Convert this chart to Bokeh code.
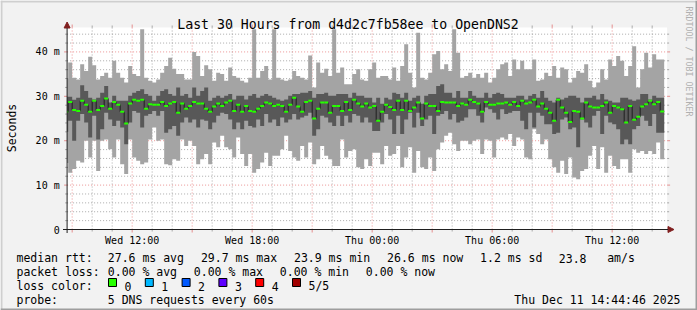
import datetime as dt
from math import pi

from bokeh.plotting import figure
from bokeh.models import (Range1d, Label, Arrow, NormalHead, BoxAnnotation, ColumnDataSource)
from bokeh.core.properties import value
from bokeh.embed import file_html
from bokeh.resources import INLINE

# ---------------- data ----------------
END_TIME = dt.datetime(2025, 12, 11, 14, 44, 46)
START_TIME = END_TIME - dt.timedelta(hours=30)
FIRST_STEP_END = dt.datetime(2025, 12, 10, 8, 48)
STEP_MINUTES = 12
Y_MAX = 45.5

ping_max = [34.0,
    37.6, 34.2, 33.8, 37.2, 35.7, 38.9, 37.0, 33.8, 34.6, 35.3, 34.2, 38.0, 35.3, 34.2, 33.1, 36.8, 35.0, 34.6, 45.1, 34.2, 33.5, 33.1, 33.8, 35.3, 36.8,
    38.7, 36.2, 35.0, 35.0, 33.8, 33.8, 40.0, 39.1, 34.6, 37.0, 36.1, 33.5, 35.3, 35.0, 33.5, 36.5, 34.6, 34.2, 33.5, 33.1, 34.2, 45.1, 34.2, 35.7, 36.8,
    33.8, 45.1, 34.2, 33.8, 33.5, 33.8, 35.7, 34.6, 34.2, 33.8, 39.2, 32.0, 37.6, 35.3, 36.2, 34.6, 45.1, 35.3, 36.5, 32.7, 32.7, 35.0, 36.1, 33.8, 33.5,
    36.1, 37.6, 34.2, 34.6, 34.6, 33.8, 36.5, 33.5, 36.8, 41.7, 35.3, 32.0, 44.3, 34.2, 33.8, 35.3, 39.5, 40.2, 36.1, 37.2, 35.7, 45.1, 39.8, 34.2, 34.6,
    35.3, 34.2, 35.0, 34.2, 35.3, 33.1, 34.2, 36.1, 37.2, 37.6, 34.6, 38.3, 36.1, 38.0, 36.1, 36.1, 38.3, 33.5, 33.8, 35.3, 34.6, 36.8, 34.2, 36.5, 36.1,
    33.1, 34.2, 35.7, 35.3, 37.2, 33.5, 32.0, 33.1, 36.1, 33.8, 38.3, 36.8, 39.1, 38.0, 34.6, 36.8, 41.3, 32.0, 36.1, 39.8, 36.5, 39.5, 38.3, 38.3]

ping_q3 = [29.9,
    29.9, 29.2, 29.7, 32.5, 31.2, 29.7, 29.3, 29.7, 30.8, 32.3, 28.6, 30.1, 29.0, 29.0, 29.0, 30.1, 30.8, 31.2, 31.6, 30.5, 30.1, 29.0, 30.1, 31.2, 31.6,
    30.5, 30.1, 32.0, 30.1, 30.5, 29.7, 32.0, 30.1, 31.2, 32.0, 29.0, 29.7, 30.1, 29.7, 30.1, 30.5, 29.3, 30.1, 30.1, 29.3, 30.1, 30.5, 29.7, 30.1, 30.5,
    30.1, 29.7, 29.3, 29.0, 29.3, 30.1, 30.5, 30.5, 30.8, 30.8, 31.2, 29.7, 30.5, 30.5, 30.8, 30.1, 30.1, 30.5, 30.5, 30.5, 29.7, 30.8, 30.1, 30.1, 29.7,
    29.7, 28.6, 29.7, 28.3, 29.7, 29.3, 30.8, 30.5, 29.7, 30.8, 29.0, 29.7, 30.1, 28.3, 30.1, 30.5, 30.5, 32.3, 32.7, 30.8, 30.8, 29.7, 31.2, 29.7, 29.7,
    31.2, 30.1, 29.7, 29.7, 30.8, 29.7, 30.5, 30.8, 30.5, 29.7, 29.7, 29.7, 30.1, 30.1, 29.3, 30.1, 30.5, 29.7, 31.2, 29.7, 29.0, 28.6, 29.7, 29.3, 29.7,
    30.1, 30.1, 29.7, 28.6, 29.7, 29.7, 30.1, 29.3, 30.5, 29.3, 29.0, 28.6, 28.6, 29.7, 29.7, 29.3, 29.0, 29.3, 30.5, 30.5, 29.3, 30.1, 29.7, 29.7]

median_rtt = [26.5,
    28.7, 26.9, 26.7, 29.0, 28.1, 26.5, 29.0, 26.9, 27.8, 29.5, 27.2, 28.7, 28.1, 26.5, 23.9, 28.4, 29.2, 29.0, 29.2, 27.2, 28.2, 28.1, 28.1, 28.7, 27.8,
    28.4, 28.7, 26.3, 28.4, 27.2, 27.8, 28.7, 28.4, 28.4, 27.2, 26.5, 27.7, 28.4, 27.8, 28.6, 29.0, 26.7, 28.1, 26.5, 27.8, 26.7, 26.5, 27.2, 27.8, 28.6,
    28.4, 27.8, 28.1, 27.8, 26.5, 28.1, 29.7, 27.7, 26.5, 28.7, 29.0, 25.0, 27.2, 28.6, 28.6, 26.3, 27.8, 27.8, 26.7, 28.7, 26.9, 29.2, 28.4, 27.7, 28.4,
    27.5, 27.8, 24.5, 26.5, 28.1, 27.6, 26.9, 29.0, 26.9, 29.0, 26.7, 27.5, 28.6, 25.0, 28.4, 27.8, 27.8, 26.7, 28.7, 28.6, 28.6, 28.6, 27.8, 28.4, 28.1,
    29.2, 28.7, 28.4, 26.5, 28.7, 28.1, 28.1, 28.4, 28.4, 28.6, 28.1, 28.7, 27.8, 29.0, 28.4, 28.6, 29.2, 27.7, 28.4, 27.2, 26.3, 24.5, 29.2, 27.5, 26.3,
    24.2, 26.7, 26.5, 25.0, 28.6, 27.7, 27.5, 27.5, 27.8, 28.6, 26.3, 27.8, 27.5, 27.1, 24.1, 27.8, 24.7, 25.4, 27.7, 28.2, 29.0, 28.2, 28.7, 26.6]

ping_q1 = [22.0,
    24.5, 20.0, 24.5, 26.0, 24.1, 20.7, 25.6, 20.3, 22.6, 26.3, 24.8, 23.3, 24.5, 23.0, 19.2, 24.1, 26.7, 26.3, 23.0, 25.6, 26.0, 26.7, 25.6, 26.7, 21.8,
    22.6, 23.3, 21.1, 24.1, 25.2, 24.1, 24.8, 23.0, 24.8, 24.5, 22.6, 24.1, 25.6, 26.3, 26.0, 24.8, 22.6, 24.1, 22.6, 24.5, 23.3, 23.0, 24.8, 23.3, 26.0,
    24.1, 24.8, 23.3, 25.2, 24.1, 24.8, 26.0, 24.8, 25.2, 25.6, 26.3, 21.1, 22.6, 25.6, 25.2, 24.1, 23.3, 25.6, 23.3, 25.6, 24.1, 26.0, 25.6, 24.1, 25.2,
    24.1, 22.2, 22.2, 24.1, 26.0, 24.8, 21.5, 25.6, 21.5, 24.8, 26.3, 23.0, 26.3, 23.3, 24.8, 25.6, 21.5, 25.6, 26.0, 26.7, 24.8, 26.0, 24.1, 24.5, 25.2,
    27.1, 27.1, 25.6, 24.1, 27.5, 27.1, 26.3, 24.8, 27.1, 26.0, 26.3, 26.7, 26.7, 24.5, 22.6, 26.3, 23.0, 26.3, 25.6, 23.7, 23.7, 21.5, 21.8, 24.8, 25.2,
    22.6, 23.0, 18.5, 24.8, 24.1, 23.0, 25.6, 26.7, 21.5, 25.6, 24.1, 23.7, 22.6, 19.2, 20.3, 19.2, 22.6, 23.3, 25.6, 24.5, 23.3, 26.0, 21.8, 21.8]

ping_min = [15.0,
    12.8, 13.6, 15.5, 15.1, 20.0, 16.2, 20.0, 13.2, 20.0, 20.3, 18.1, 16.2, 20.3, 14.7, 12.5, 20.3, 16.2, 15.5, 14.7, 15.1, 20.3, 23.0, 20.0, 20.3, 14.7,
    14.5, 15.8, 15.5, 20.3, 18.8, 20.0, 18.8, 14.7, 15.8, 17.0, 14.7, 19.6, 18.5, 21.1, 18.5, 18.1, 16.2, 20.7, 17.0, 14.3, 17.0, 12.8, 13.6, 15.1, 17.3,
    14.3, 16.6, 16.6, 18.1, 21.1, 17.7, 16.2, 15.5, 18.8, 16.2, 19.6, 14.7, 15.8, 18.8, 16.6, 15.8, 14.3, 14.3, 20.3, 16.2, 17.7, 18.1, 14.0, 13.6, 15.8,
    14.3, 17.3, 17.3, 14.7, 18.8, 16.6, 17.0, 18.8, 14.0, 16.2, 18.5, 12.8, 17.7, 14.0, 13.6, 16.2, 13.2, 18.1, 19.6, 21.1, 21.8, 19.2, 17.7, 20.0, 20.0,
    19.2, 20.0, 20.3, 17.0, 20.3, 20.0, 16.2, 20.3, 20.7, 20.3, 21.5, 18.8, 20.7, 20.3, 16.2, 15.8, 22.6, 21.5, 19.2, 20.3, 15.8, 14.0, 12.8, 15.5, 12.5,
    16.2, 11.7, 11.3, 13.2, 13.6, 16.6, 18.8, 13.6, 18.5, 12.8, 16.6, 14.3, 13.6, 15.8, 15.8, 12.8, 18.1, 17.3, 17.7, 17.0, 17.7, 17.0, 19.6, 15.8]

x_tick_times = [dt.datetime(2025, 12, 10, 12), dt.datetime(2025, 12, 10, 18),
                dt.datetime(2025, 12, 11, 0), dt.datetime(2025, 12, 11, 6),
                dt.datetime(2025, 12, 11, 12)]
x_tick_labels = ["Wed 12:00", "Wed 18:00", "Thu 00:00", "Thu 06:00", "Thu 12:00"]
y_ticks = [0, 10, 20, 30, 40]
y_tick_labels = ["0", "10 m", "20 m", "30 m", "40 m"]

title_text = "Last 30 Hours from d4d2c7fb58ee to OpenDNS2"
y_axis_label = "Seconds"
watermark = "RRDTOOL / TOBI OETIKER"
rtt_legend = ["median rtt:", "27.6 ms avg", "29.7 ms max", "23.9 ms min", "26.6 ms now", "1.2 ms sd", "23.8", "am/s"]
loss_legend = ["packet loss:", "0.00 % avg", "0.00 % max", "0.00 % min", "0.00 % now"]
loss_color_title = "loss color:"
loss_color_labels = ["0", "1", "2", "3", "4", "5/5"]
loss_colors = ["#26ff00", "#00b8ff", "#0059ff", "#5e00ff", "#ff0000", "#a10000"]
probe_legend = ["probe:", "5 DNS requests every 60s"]
stamp = "Thu Dec 11 14:44:46 2025"

# ---------------- layout helpers ----------------
W, H = 697, 310
PLOT_L, PLOT_R, PLOT_T, PLOT_B = 66.6, 666.6, 27.0, 229.0
EPOCH = dt.datetime(1970, 1, 1)


def ms(d):
    return (d - EPOCH).total_seconds() * 1000.0


T0, T1 = ms(START_TIME), ms(END_TIME)
MS_PER_PX = (T1 - T0) / (PLOT_R - PLOT_L)
PX_PER_UNIT = (PLOT_B - PLOT_T) / Y_MAX


def X(px):
    return T0 + (px - PLOT_L) * MS_PER_PX


def Y(py):
    return (PLOT_B - py) / PX_PER_UNIT


step = dt.timedelta(minutes=STEP_MINUTES)
n = len(median_rtt)
rights = [FIRST_STEP_END + k * step for k in range(n)]
lefts = [max(START_TIME, r - step) for r in rights]
xs = [ms(t) for t in lefts] + [ms(rights[-1])]


def ext(a):
    return list(a) + [a[-1]]


FONT = "DejaVu Sans Mono"
BACK = "#f2f2f2"
GRID = "#8f8f8f"
MGRID = "#de4f4f"
AXIS = "#1f1f1f"
ARROW = "#801f1f"

p = figure(width=W, height=H, x_range=Range1d(X(0), X(W)), y_range=Range1d(Y(H), Y(0)),
           x_axis_location=None, y_axis_location=None,
           output_backend="svg", toolbar_location=None, title=None,
           min_border=0, min_border_left=0, min_border_right=0, min_border_top=0, min_border_bottom=0,
           background_fill_color=BACK, border_fill_color=BACK)
p.outline_line_color = None
p.grid.visible = False

# canvas (plot area)
p.quad(left=[T0], right=[T1], bottom=[0], top=[Y_MAX], fill_color="white", line_color=None)

# grid (behind the graph)
hour_lines = []
h = START_TIME.replace(minute=0, second=0) + dt.timedelta(hours=1)
while h < END_TIME:
    hour_lines.append(h)
    h += dt.timedelta(hours=1)
minor_x = [ms(t) for t in hour_lines if t.hour % 3 != 0]
major_x = [ms(t) for t in hour_lines if t.hour % 3 == 0]
minor_y = [v for v in range(2, 46, 2) if v % 10 != 0]
major_y = [v for v in range(10, 46, 10)]

for xv, col, alpha, tick in [(minor_x, GRID, 0.75, 2), (major_x, MGRID, 0.6, 3)]:
    k = len(xv)
    p.segment(x0=xv, x1=xv, y0=[0] * k, y1=[Y_MAX] * k, line_color=col, line_alpha=alpha,
              line_dash="1 2", line_width=1)
    p.segment(x0=xv + xv, x1=xv + xv, y0=[0] * k + [Y_MAX] * k,
              y1=[Y(PLOT_B + tick)] * k + [Y(PLOT_T - tick)] * k,
              line_color=col, line_alpha=alpha, line_width=1)
for yv, col, alpha, tick in [(minor_y, GRID, 0.75, 2), (major_y, MGRID, 0.6, 3)]:
    k = len(yv)
    p.segment(x0=[T0] * k, x1=[T1] * k, y0=yv, y1=yv, line_color=col, line_alpha=alpha,
              line_dash="1 2", line_width=1)
    p.segment(x0=[T0] * k + [T1] * k, x1=[X(PLOT_L - tick)] * k + [X(PLOT_R + tick)] * k,
              y0=yv + yv, y1=yv + yv, line_color=col, line_alpha=alpha, line_width=1)

# smoke + median
src = ColumnDataSource(dict(x=xs, mn=ext(ping_min), mx=ext(ping_max), q1=ext(ping_q1),
                            q3=ext(ping_q3), med=ext(median_rtt)))
p.varea_step(x="x", y1="mn", y2="mx", step_mode="after", source=src, fill_color="#a4a4a4")
p.varea_step(x="x", y1="q1", y2="q3", step_mode="after", source=src, fill_color="#585858")
p.step(x="x", y="med", mode="after", source=src, line_color="#202020", line_width=1)
seg = ColumnDataSource(dict(x0=[ms(t) for t in lefts], x1=[ms(t) for t in rights], y=median_rtt))
p.segment(x0="x0", x1="x1", y0="y", y1="y", source=seg, line_color=loss_colors[0], line_width=2)

# axes with arrows
p.add_layout(Arrow(x_start=X(62.5), y_start=0, x_end=X(673.5), y_end=0,
                   line_color=AXIS, line_width=1,
                   end=NormalHead(size=6, fill_color=ARROW, line_color=ARROW)))
p.add_layout(Arrow(x_start=T0, y_start=Y(232.5), x_end=T0, y_end=Y(21.5),
                   line_color=AXIS, line_width=1,
                   end=NormalHead(size=6, fill_color=ARROW, line_color=ARROW)))

# tick labels
p.text(x=[ms(t) for t in x_tick_times], y=[0] * len(x_tick_times), text=x_tick_labels,
       y_offset=11, text_align="center", text_baseline="alphabetic",
       text_font=value(FONT), text_font_size="10px", text_color="#000000")
p.text(x=[T0] * len(y_ticks), y=y_ticks, text=y_tick_labels, x_offset=-7.4,
       text_align="right", text_baseline="middle",
       text_font=value(FONT), text_font_size="10px", text_color="#000000")


def text(t, x, y_top, size, align="left", baseline="alphabetic", angle=0.0, color="#000000"):
    p.add_layout(Label(x=x, y=y_top, x_units="canvas", y_units="canvas", text=t,
                       text_font=FONT, text_font_size=f"{size}px", text_align=align,
                       text_baseline=baseline, angle=angle, text_color=color))


text(title_text, 347.5, 24, 13.2, align="center")
text(y_axis_label, 11, 127.5, 11.5, align="center", baseline="middle", angle=pi / 2)
text(watermark, 688, 61, 8.3, align="center", baseline="middle", angle=-pi / 2, color="#b0b0b0")

LEG = 11.5
rtt_x = [16, 107.3, 200.4, 293.5, 386.6, 479.6, 558.3, 606.7]
for t, x in zip(rtt_legend, rtt_x):
    text(t, x, 257.7, LEG)
loss_x = [16, 107.3, 193.3, 279.3, 365.3]
for t, x in zip(loss_legend, loss_x):
    text(t, x, 271.7, LEG)
text(loss_color_title, 16, 285.7, LEG)
for i, (lab, col) in enumerate(zip(loss_color_labels, loss_colors)):
    bx = 108 + 36.8 * i
    p.add_layout(BoxAnnotation(left=bx, right=bx + 8, top=278, bottom=286,
                               left_units="canvas", right_units="canvas",
                               top_units="canvas", bottom_units="canvas",
                               fill_color=col, fill_alpha=1.0, line_color="#000000",
                               line_alpha=1.0, line_width=1, level="overlay"))
    text(lab, bx + 16, 285.7, LEG)
text(probe_legend[0], 16, 299.5, LEG)
text(probe_legend[1], 107.3, 299.5, LEG)
text(stamp, 680, 299.5, LEG, align="right")

# frame shading
for l, r, t, b, c in [(0, W, 0, 2, "#cfcfcf"), (0, 2, 0, H, "#cfcfcf"),
                      (0, W, H - 2, H, "#9e9e9e"), (W - 2, W, 0, H, "#9e9e9e")]:
    p.add_layout(BoxAnnotation(left=l, right=r, top=t, bottom=b,
                               left_units="canvas", right_units="canvas",
                               top_units="canvas", bottom_units="canvas",
                               fill_color=c, fill_alpha=1.0, line_color=None, level="overlay"))

open("out.html", "w").write(file_html(p, INLINE))
